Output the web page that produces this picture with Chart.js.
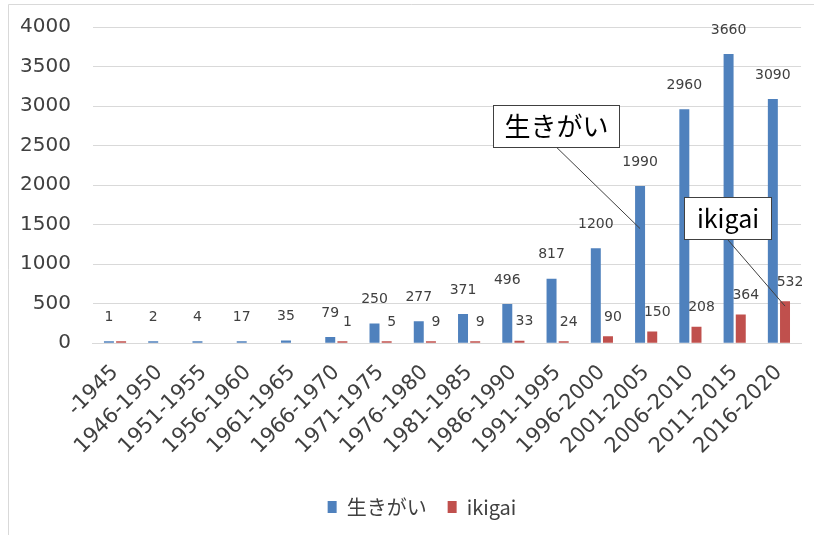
<!DOCTYPE html>
<html>
<head>
<meta charset="utf-8">
<script src="https://cdn.jsdelivr.net/npm/chart.js@4/dist/chart.umd.min.js"></script>
<style>
html,body{margin:0;padding:0;background:#fff;}
#wrap{position:relative;width:814px;height:535px;}
</style>
</head>
<body>
<div id="wrap"><canvas id="c" width="814" height="535"></canvas></div>
<script>
const categories = ['-1945','1946-1950','1951-1955','1956-1960','1961-1965','1966-1970','1971-1975','1976-1980','1981-1985','1986-1990','1991-1995','1996-2000','2001-2005','2006-2010','2011-2015','2016-2020'];
const ikigaiJa = [1,2,4,17,35,79,250,277,371,496,817,1200,1990,2960,3660,3090];
const ikigaiEn = [1,null,null,null,null,1,5,9,9,33,24,90,150,208,364,532];
const ikigaiEnLabels = ['','','','','','1','5','9','9','33','24','90','150','208','364','532'];
const yTicks = [0,500,1000,1500,2000,2500,3000,3500,4000];
const seriesNames = ['生きがい','ikigai'];

const BLUE = '#4f81bd', RED = '#c0504d';
const TXT = '#404040';
const FONT = '"DejaVu Sans", Verdana, sans-serif';
const JFONT = '"Noto Sans CJK JP", "Noto Sans", sans-serif';

const framePlugin = {
  id: 'frame',
  afterUpdate(chart) {
    // nudge legend slightly right, as in the reference
    if (chart.legend) { chart.legend.left += 9; chart.legend.right += 9; }
  },
  beforeDraw(chart) {
    const ctx = chart.ctx;
    ctx.save();
    ctx.fillStyle = '#fff';
    ctx.fillRect(0,0,chart.width,chart.height);
    ctx.strokeStyle = '#d9d9d9';
    ctx.lineWidth = 1;
    ctx.beginPath();
    ctx.moveTo(8.5, chart.height);
    ctx.lineTo(8.5, 4.5);
    ctx.lineTo(chart.width, 4.5);
    ctx.stroke();
    ctx.restore();
  }
};

const labelPlugin = {
  id: 'barLabels',
  afterDatasetsDraw(chart) {
    const ctx = chart.ctx;
    ctx.save();
    ctx.font = '14px ' + FONT;
    ctx.fillStyle = TXT;
    ctx.textAlign = 'center';
    ctx.textBaseline = 'middle';
    chart.data.datasets.forEach((ds, di) => {
      const meta = chart.getDatasetMeta(di);
      meta.data.forEach((bar, i) => {
        const v = ds.data[i];
        if (v === null || v === undefined) return;
        const txt = di === 0 ? String(v) : ikigaiEnLabels[i];
        if (!txt) return;
        const off = di === 0 ? 24 : 19;
        const dx = di === 0 ? 0 : 5;
        ctx.fillText(txt, bar.x + dx, bar.y - off);
      });
    });
    ctx.restore();
  }
};

// callouts defined in category-index / value space
const callouts = [
  {text: seriesNames[0], x0: 8.54, x1: 11.39, yTop: 3010, yBot: 2476, lineFrom: 9.98, toCat: 12, toDs: 0, toVal: 1450, size: 26},
  {text: seriesNames[1], x0: 12.85, x1: 14.83, yTop: 1854, yBot: 1321, lineFrom: 13.84, toCat: 15, toDs: 1, toVal: 470, size: 25}
];

const calloutPlugin = {
  id: 'callouts',
  afterDraw(chart) {
    const ctx = chart.ctx;
    const xs = chart.scales.x, ys = chart.scales.y;
    const c0 = xs.getPixelForValue(0), step = xs.getPixelForValue(1) - c0;
    const px = idx => c0 + idx * step;
    ctx.save();
    callouts.forEach(co => {
      const l = Math.round(px(co.x0)) + 0.5, r = Math.round(px(co.x1)) + 0.5;
      const t = Math.round(ys.getPixelForValue(co.yTop)) + 0.5, b = Math.round(ys.getPixelForValue(co.yBot)) + 0.5;
      const bar = chart.getDatasetMeta(co.toDs).data[co.toCat];
      ctx.strokeStyle = '#404040';
      ctx.lineWidth = 1;
      ctx.beginPath();
      ctx.moveTo(px(co.lineFrom), b);
      ctx.lineTo(bar.x, ys.getPixelForValue(co.toVal));
      ctx.stroke();
      ctx.fillStyle = '#fff';
      ctx.fillRect(l, t, r - l, b - t);
      ctx.strokeRect(l, t, r - l, b - t);
      ctx.fillStyle = '#000';
      ctx.font = co.size + 'px ' + JFONT;
      ctx.textAlign = 'center';
      ctx.textBaseline = 'middle';
      ctx.fillText(co.text, (l + r) / 2, (t + b) / 2);
    });
    ctx.restore();
  }
};

new Chart(document.getElementById('c'), {
  type: 'bar',
  data: {
    labels: categories,
    datasets: [
      {label: seriesNames[0], data: ikigaiJa, backgroundColor: BLUE, minBarLength: 2, categoryPercentage: 0.55, barPercentage: 0.82},
      {label: seriesNames[1], data: ikigaiEn, backgroundColor: RED, minBarLength: 2, categoryPercentage: 0.55, barPercentage: 0.82}
    ]
  },
  options: {
    responsive: false,
    animation: false,
    layout: {padding: {left: 20, right: 8, top: 27, bottom: 8}},
    plugins: {
      legend: {
        position: 'bottom',
        labels: {
          font: {size: 20, family: JFONT},
          color: TXT,
          boxWidth: 9,
          boxHeight: 12,
          padding: 21
        }
      },
      tooltip: {enabled: false}
    },
    scales: {
      x: {
        grid: {display: false, drawTicks: false},
        border: {display: true, color: '#d9d9d9'},
        ticks: {
          color: TXT,
          font: {size: 21, family: FONT},
          maxRotation: 45,
          minRotation: 45,
          autoSkip: false,
          padding: 17
        }
      },
      y: {
        min: 0,
        max: 4000,
        afterBuildTicks(axis) { axis.ticks = yTicks.map(v => ({value: v})); },
        grid: {color: '#d9d9d9', drawTicks: true, tickLength: 22, tickColor: 'rgba(0,0,0,0)'},
        border: {display: false},
        ticks: {
          color: TXT,
          font: {size: 20, family: FONT},
          padding: 0,
          callback: v => String(v)
        }
      }
    }
  },
  plugins: [framePlugin, labelPlugin, calloutPlugin]
});
</script>
</body>
</html>
